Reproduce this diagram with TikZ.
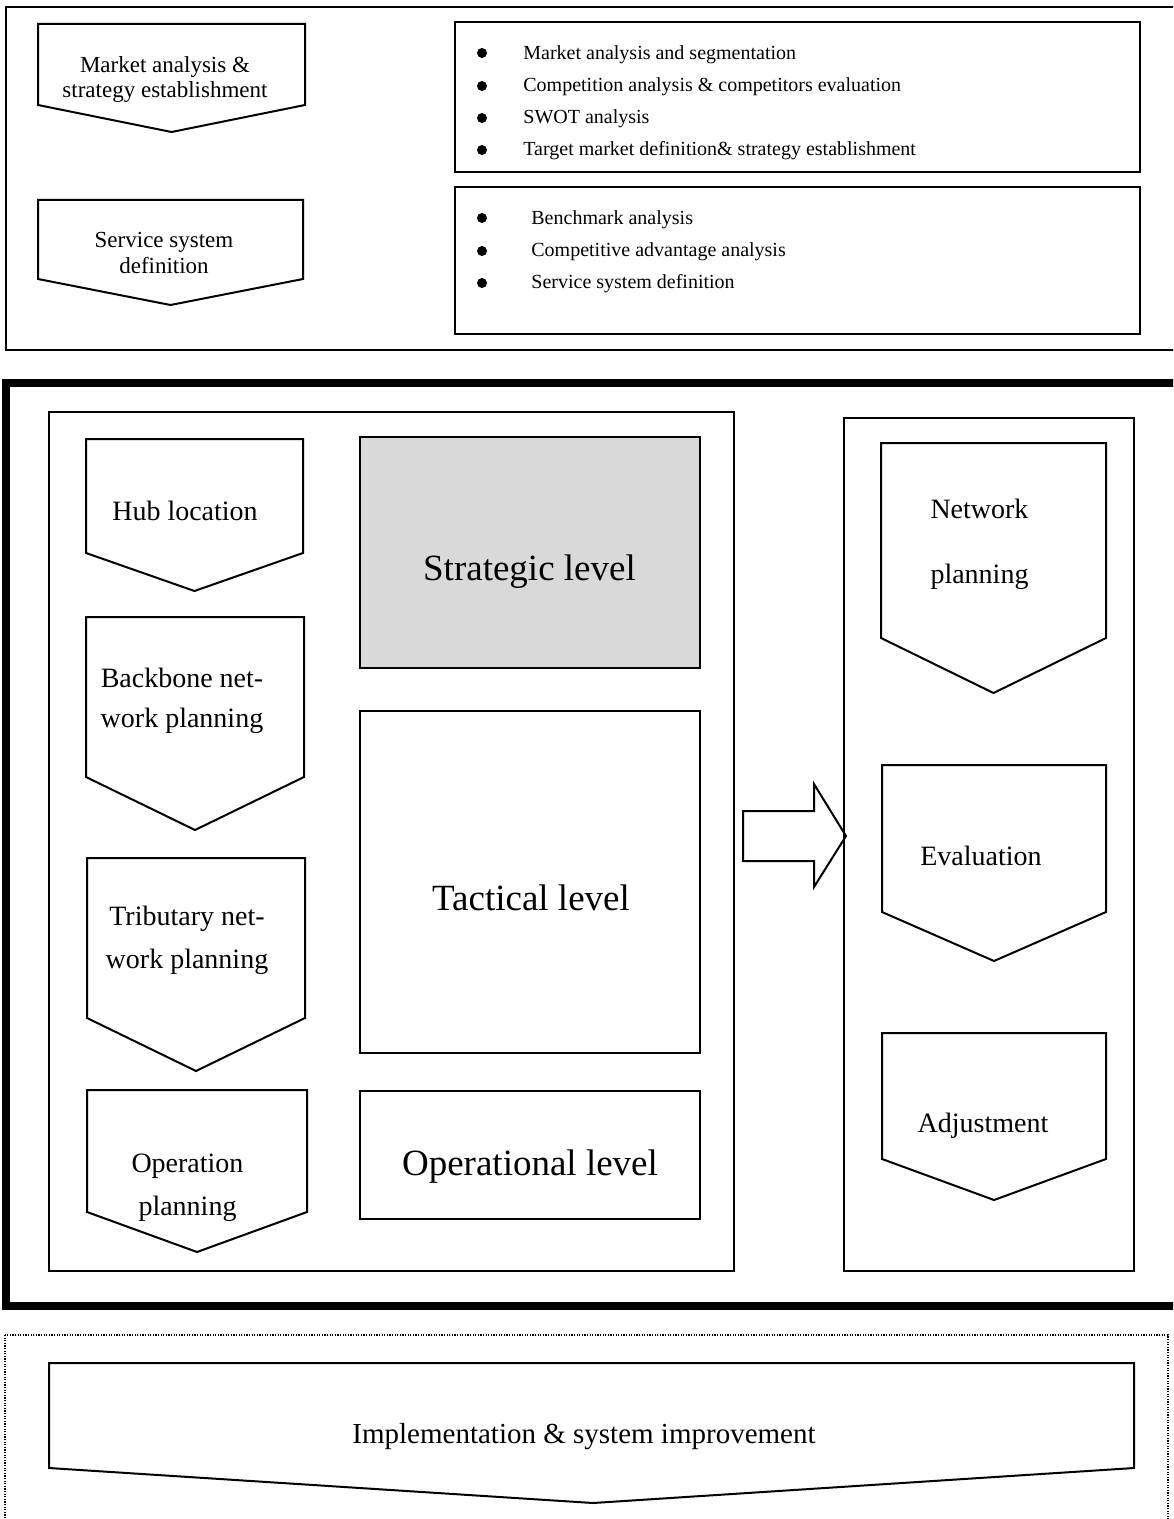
\documentclass[tikz,border=0pt]{standalone}
\usepackage{fontspec}
\setmainfont{Liberation Serif}

% downward-pointing pentagon: x-left, x-right, y-top, y-side-bottom, y-tip
\newcommand\downPent[5]{%
  \draw[shapeline] (#1,#3) -- (#2,#3) -- (#2,#4) -- ({(#1+#2)/2},#5) -- (#1,#4) -- cycle;}

\begin{document}
\begin{tikzpicture}[x=0.5pt,y=-0.5pt,
  shapeline/.style={draw=black, line width=1pt, line join=miter},
  boxline/.style={draw=black, line width=1pt},
  heavyframe/.style={draw=black, line width=4pt},
  dotframe/.style={draw=black, line width=0.6pt, dash pattern=on 0.6pt off 0.7pt},
  lbl/.style={inner sep=0pt, anchor=base, align=center},
  bul/.style={circle, fill=black, inner sep=0pt, minimum size=5pt},
  item/.style={inner sep=0pt, anchor=base west, font=\fontsize{10}{12}\selectfont},
]
\useasboundingbox (0,0) rectangle (1173,1519);
\clip (0,0) rectangle (1173,1519);

% ---------- upper panel: market analysis and service system ----------
\draw[boxline] (6,7) rectangle (1190,350);
\downPent{38}{305}{24}{105}{132}
\downPent{38}{303}{200}{279}{305}
% (base anchor of a two-line label sits on its last line)
\node[lbl, font=\fontsize{11.5}{12.5}\selectfont] (mkt) at (165,98)
  {Market analysis \&\\strategy establishment};
\node[lbl, font=\fontsize{11.5}{13}\selectfont] (svc) at (164,274)
  {Service system\\definition};

\draw[boxline] (455,22) rectangle (1140,172);
\draw[boxline] (455,187) rectangle (1140,334);

\node[bul] (b1) at (482,53) {};
\node[bul] (b2) at (482,86) {};
\node[bul] (b3) at (482,118) {};
\node[bul] (b4) at (482,150) {};
\node[item] (t1) at (523,60) {Market analysis and segmentation};
\node[item] (t2) at (523,92) {Competition analysis \& competitors evaluation};
\node[item] (t3) at (523,124) {SWOT analysis};
\node[item] (t4) at (523,156) {Target market definition\& strategy establishment};

\node[bul] (b5) at (482,218) {};
\node[bul] (b6) at (482,251) {};
\node[bul] (b7) at (482,283) {};
\node[item] (t5) at (531,225) {Benchmark analysis};
\node[item] (t6) at (531,257) {Competitive advantage analysis};
\node[item] (t7) at (531,289) {Service system definition};

% ---------- middle panel: planning levels ----------
\draw[heavyframe] (6,383) rectangle (1190,1306);
\draw[boxline] (49,412) rectangle (734,1271);
\draw[boxline] (844,418) rectangle (1134,1271);

% left column
\downPent{86}{303}{439}{553}{591}
\downPent{86}{304}{617}{777}{830}
\downPent{87}{305}{858}{1018}{1071}
\downPent{87}{307}{1090}{1212}{1252}
\node[lbl, font=\fontsize{14}{20}\selectfont] (hub) at (185,520) {Hub location};
\node[lbl, font=\fontsize{14}{20}\selectfont] (bbn) at (182,727) {Backbone net-\\work planning};
\node[lbl, font=\fontsize{14}{21.5}\selectfont] (trn) at (187,968) {Tributary net-\\work planning};
\node[lbl, font=\fontsize{14}{21.5}\selectfont] (opp) at (187.5,1215) {Operation\\planning};

% middle column
\draw[boxline, fill={rgb,255:red,217;green,217;blue,217}] (360,437) rectangle (700,668);
\draw[boxline] (360,711) rectangle (700,1053);
\draw[boxline] (360,1091) rectangle (700,1219);
\node[lbl, font=\fontsize{18.5}{22}\selectfont] (strat) at (529.5,580) {Strategic level};
\node[lbl, font=\fontsize{18.5}{22}\selectfont] (tact) at (531,910) {Tactical level};
\node[lbl, font=\fontsize{18.5}{22}\selectfont] (oper) at (530,1175) {Operational level};

% block arrow towards the evaluation loop
\draw[shapeline] (743,811) -- (814,811) -- (814,784) -- (846,836)
  -- (814,887) -- (814,861) -- (743,861) -- cycle;

% right column
\downPent{881}{1106}{443}{638}{693}
\downPent{882}{1106}{765}{912}{961}
\downPent{882}{1106}{1033}{1159}{1200}
\node[lbl, font=\fontsize{14}{32.5}\selectfont] (net) at (979.5,583) {Network\\planning};
\node[lbl, font=\fontsize{14}{20}\selectfont] (eval) at (981,865) {Evaluation};
\node[lbl, font=\fontsize{14}{20}\selectfont] (adj) at (983,1132) {Adjustment};

% ---------- lower panel: implementation ----------
\draw[dotframe] (5,1335) rectangle (1168,1540);
\draw[shapeline] (49,1363) -- (1134,1363) -- (1134,1468) -- (593,1503) -- (49,1468) -- cycle;
\node[lbl, font=\fontsize{14.5}{18}\selectfont] (impl) at (584,1443)
  {Implementation \& system improvement};
\end{tikzpicture}
\end{document}
